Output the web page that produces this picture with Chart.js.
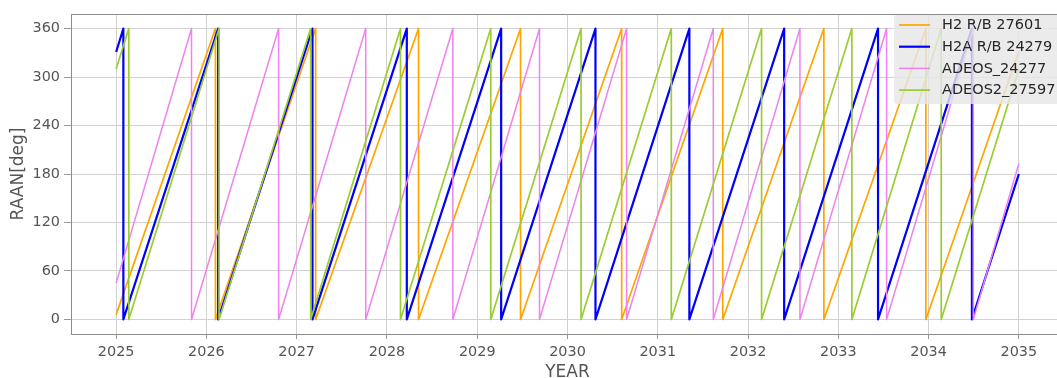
<!DOCTYPE html>
<html>
<head>
<meta charset="utf-8">
<script src="https://cdn.jsdelivr.net/npm/chart.js@4/dist/chart.umd.min.js"></script>
<style>
  html, body { margin: 0; padding: 0; background: #ffffff; overflow: hidden; }
  #wrap { width: 1064px; height: 378px; }
</style>
</head>
<body>
<div id="wrap"><canvas id="raan" width="1064" height="378"></canvas></div>
<script>
// Axis ticks
const yearTicks = [2025, 2026, 2027, 2028, 2029, 2030, 2031, 2032, 2033, 2034, 2035];
const raanTicks = [0, 60, 120, 180, 240, 300, 360];

// RAAN history per object: sawtooth vertices (year, degrees); each wrap is a 360 -> 0 pair
const h2Years = [2025.0, 2026.10, 2026.10, 2027.21, 2027.21, 2028.35, 2028.35, 2029.48, 2029.48,
                 2030.60, 2030.60, 2031.72, 2031.72, 2032.84, 2032.84, 2033.97, 2033.97, 2035.0];
const h2Raan  = [6, 360, 0, 360, 0, 360, 0, 360, 0,
                 360, 0, 360, 0, 360, 0, 360, 0, 332];

const h2aYears = [2025.0, 2025.08, 2025.08, 2026.13, 2026.13, 2027.175, 2027.175, 2028.22, 2028.22,
                  2029.265, 2029.265, 2030.31, 2030.31, 2031.35, 2031.35, 2032.40, 2032.40,
                  2033.44, 2033.44, 2034.48, 2034.48, 2035.0];
const h2aRaan  = [331, 360, 0, 360, 0, 360, 0, 360, 0,
                  360, 0, 360, 0, 360, 0, 360, 0,
                  360, 0, 360, 0, 180];

const adeosYears = [2025.0, 2025.835, 2025.835, 2026.80, 2026.80, 2027.765, 2027.765, 2028.73, 2028.73,
                    2029.69, 2029.69, 2030.655, 2030.655, 2031.615, 2031.615, 2032.575, 2032.575,
                    2033.535, 2033.535, 2034.495, 2034.495, 2035.0];
const adeosRaan  = [45, 360, 0, 360, 0, 360, 0, 360, 0,
                    360, 0, 360, 0, 360, 0, 360, 0,
                    360, 0, 360, 0, 193];

const adeos2Years = [2025.0, 2025.14, 2025.14, 2026.14, 2026.14, 2027.155, 2027.155, 2028.15, 2028.15,
                     2029.15, 2029.15, 2030.15, 2030.15, 2031.15, 2031.15, 2032.15, 2032.15,
                     2033.15, 2033.15, 2034.14, 2034.14, 2035.0];
const adeos2Raan  = [310, 360, 0, 360, 0, 360, 0, 360, 0,
                     360, 0, 360, 0, 360, 0, 360, 0,
                     360, 0, 360, 0, 310];

const toPoints = (xs, ys) => xs.map((x, i) => ({ x: x, y: ys[i] }));

Chart.defaults.font.family = "'DejaVu Sans', sans-serif";

// Top spine plus an overlaid legend box in the upper-right corner
const frameAndKey = {
  id: 'frameAndKey',
  afterDatasetsDraw(chart) {
    const ctx = chart.ctx;
    const a = chart.chartArea;
    ctx.save();
    ctx.strokeStyle = '#8c8c8c';
    ctx.lineWidth = 1;
    ctx.beginPath();
    ctx.moveTo(a.left, Math.round(a.top) + 0.5);
    ctx.lineTo(a.right, Math.round(a.top) + 0.5);
    ctx.stroke();

    const bx = 894, by = Math.round(a.top) + 1, bw = 180, bh = 89;
    ctx.fillStyle = 'rgba(231,231,231,0.82)';
    ctx.beginPath();
    ctx.roundRect(bx, by, bw, bh, 3);
    ctx.fill();

    ctx.font = "14.5px 'DejaVu Sans'";
    ctx.textBaseline = 'middle';
    ctx.textAlign = 'left';
    chart.data.datasets.forEach((ds, i) => {
      const y = 25 + i * 21.7;
      ctx.strokeStyle = ds.borderColor;
      ctx.lineWidth = ds.borderWidth;
      ctx.beginPath();
      ctx.moveTo(899, y);
      ctx.lineTo(930, y);
      ctx.stroke();
      ctx.fillStyle = '#262626';
      ctx.fillText(ds.label, 942, y + 0.5);
    });
    ctx.restore();
  }
};

new Chart(document.getElementById('raan'), {
  type: 'line',
  data: {
    datasets: [
      { label: 'H2 R/B 27601',  data: toPoints(h2Years, h2Raan),         borderColor: '#ffa500', borderWidth: 1.7, order: 4 },
      { label: 'H2A R/B 24279', data: toPoints(h2aYears, h2aRaan),       borderColor: '#0000ff', borderWidth: 2.2, order: 3 },
      { label: 'ADEOS_24277',   data: toPoints(adeosYears, adeosRaan),   borderColor: '#ee82ee', borderWidth: 1.5, order: 2 },
      { label: 'ADEOS2_27597',  data: toPoints(adeos2Years, adeos2Raan), borderColor: '#9acd32', borderWidth: 1.7, order: 1 }
    ]
  },
  options: {
    responsive: false,
    animation: false,
    devicePixelRatio: 1,
    layout: { padding: { top: 14, left: 0, right: 0, bottom: 0 } },
    elements: {
      point: { radius: 0 },
      line: { tension: 0, borderJoinStyle: 'round', borderCapStyle: 'butt' }
    },
    plugins: { legend: { display: false }, tooltip: { enabled: false } },
    scales: {
      x: {
        type: 'linear',
        min: 2024.5,
        max: 2035.5,
        afterBuildTicks: s => { s.ticks = yearTicks.map(v => ({ value: v })); },
        afterFit: s => { s.height = 44; },
        ticks: { callback: v => String(v), color: '#555555', font: { size: 14.4 }, padding: 5, maxRotation: 0, autoSkip: false },
        grid: { color: '#d2d2d2', lineWidth: 1, tickLength: 5, tickColor: '#9a9a9a' },
        border: { color: '#8c8c8c', width: 1 },
        title: { display: true, text: 'YEAR', color: '#555555', font: { size: 17, lineHeight: 0.6 }, padding: 0 }
      },
      y: {
        type: 'linear',
        min: -18,
        max: 378,
        afterBuildTicks: s => { s.ticks = raanTicks.map(v => ({ value: v })); },
        afterFit: s => { s.width = 71; },
        ticks: { callback: v => String(v), color: '#555555', font: { size: 14.4 }, padding: 4 },
        grid: { color: '#d2d2d2', lineWidth: 1, tickLength: 7, tickColor: '#9a9a9a' },
        border: { color: '#8c8c8c', width: 1 },
        title: { display: true, text: 'RAAN[deg]', color: '#555555', font: { size: 17 }, padding: { top: 8, bottom: 0 } }
      }
    }
  },
  plugins: [frameAndKey]
});
</script>
</body>
</html>
